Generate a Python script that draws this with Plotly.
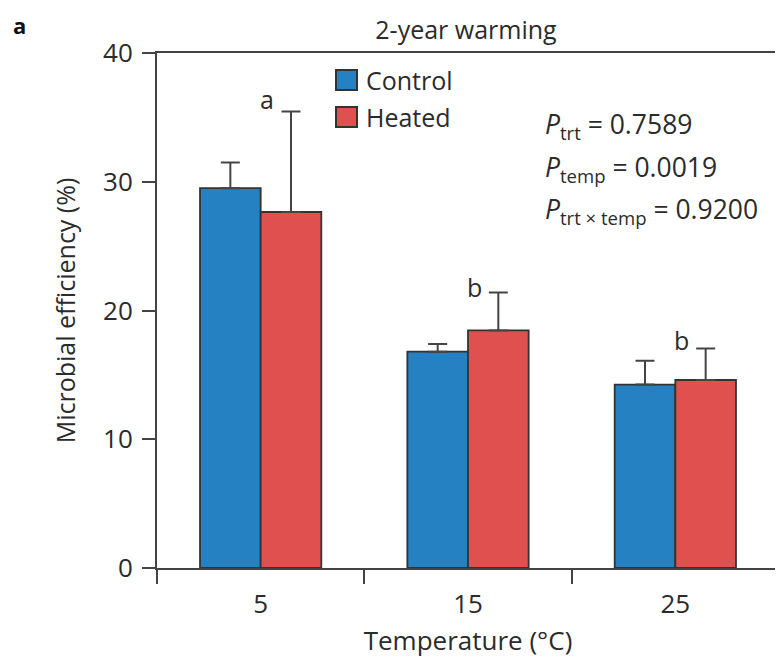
import plotly.graph_objects as go

# ---- data ----
categories = ["5", "15", "25"]
control = [29.5, 16.8, 14.25]
control_se = [2.0, 0.6, 1.85]
heated = [27.65, 18.45, 14.6]
heated_se = [7.8, 2.95, 2.45]
letters = ["a", "b", "b"]
letter_y = [36.4, 21.8, 17.7]
y_ticks = [0, 10, 20, 30, 40]
p_lines = [
    "<i>P</i><sub>trt</sub> = 0.7589",
    "<i>P</i><sub>temp</sub> = 0.0019",
    "<i>P</i><sub>trt × temp</sub> = 0.9200",
]

# ---- style ----
OFF = 8  # page body margin
W, H = 783 - OFF, 662 - OFF
PL, PR, PT, PB = 157, 779, 53, 568  # plot area in window pixels
L, R, T, B = PL - OFF, W - (PR - OFF), PT - OFF, H - (PB - OFF)
FONT = "Open Sans"
FS = 25
TXT = "#2b2b2b"
AX = "#444444"
BLUE = "#2681C2"
RED = "#E0504E"
EDGE = "#333333"


def px_x(wx):
    return (wx - PL) / (PR - PL)


def px_y(wy):
    return (PB - wy) / (PB - PT)


fig = go.Figure()
fig.add_bar(
    x=categories, y=control, name="Control",
    marker=dict(color=BLUE, line=dict(color=EDGE, width=1.8)),
    error_y=dict(type="data", symmetric=False, array=control_se,
                 arrayminus=[0] * len(control), color=AX, thickness=2, width=9.5),
    showlegend=False,
)
fig.add_bar(
    x=categories, y=heated, name="Heated",
    marker=dict(color=RED, line=dict(color=EDGE, width=1.8)),
    error_y=dict(type="data", symmetric=False, array=heated_se,
                 arrayminus=[0] * len(heated), color=AX, thickness=2, width=9.5),
    showlegend=False,
)

# significance letters (category index positions)
for i, (l, y) in enumerate(zip(letters, letter_y)):
    fig.add_annotation(x=i, xref="x", y=y, yref="y", text=l, showarrow=False,
                       xshift=6, font=dict(family=FONT, size=FS, color=TXT))

# manual legend
for name, col, cy in [("Control", BLUE, 80), ("Heated", RED, 117)]:
    fig.add_shape(type="rect", xref="paper", yref="paper",
                  x0=px_x(336), x1=px_x(357), y0=px_y(cy + 10), y1=px_y(cy - 10),
                  fillcolor=col, line=dict(color=EDGE, width=2))
    fig.add_annotation(xref="paper", yref="paper", x=px_x(364), y=px_y(cy),
                       xanchor="left", yanchor="middle", text=name, showarrow=False,
                       font=dict(family=FONT, size=FS, color=TXT))

# p-values
for i, t in enumerate(p_lines):
    fig.add_annotation(xref="paper", yref="paper", x=px_x(543), y=px_y(126 + 42 * i),
                       xanchor="left", yanchor="middle", text=t, showarrow=False,
                       font=dict(family=FONT, size=26.5, color=TXT))

# panel label
fig.add_annotation(xref="paper", yref="paper", x=px_x(11), y=px_y(OFF),
                   xanchor="left", yanchor="top", text="<b>a</b>", showarrow=False,
                   font=dict(family=FONT, size=22, color="#111111"))

fig.update_layout(
    width=W, height=H,
    margin=dict(l=L, r=R, t=T, b=B, autoexpand=False),
    paper_bgcolor="white", plot_bgcolor="white",
    barmode="group", bargap=0.415, bargroupgap=0,
    font=dict(family=FONT, size=FS, color=TXT),
    title=dict(text="2-year warming", x=(466 - OFF) / W, xref="container",
               xanchor="center", y=1 - (30 - OFF) / H, yref="container",
               yanchor="middle",
               font=dict(family=FONT, size=FS, color=TXT)),
)
fig.update_xaxes(
    type="category", range=[-0.5, 2.5], tickson="boundaries", ticks="outside",
    ticklen=14, tickwidth=2, tickcolor=AX, showline=True, linecolor=AX,
    linewidth=2, mirror=True, showgrid=False, zeroline=False, automargin=False,
    tickangle=0, ticklabelstandoff=12,
    title=dict(text="Temperature (°C)", standoff=12,
               font=dict(family=FONT, size=26, color=TXT)),
    tickfont=dict(family=FONT, size=26, color=TXT),
)
fig.update_yaxes(
    range=[0, 40], tickvals=y_ticks, ticks="outside", ticklen=13, tickwidth=2,
    tickcolor=AX, showline=True, linecolor=AX, linewidth=2, mirror=True,
    showgrid=False, zeroline=False, automargin=False, ticklabelstandoff=4,
    title=dict(text="Microbial efficiency (%)", standoff=20,
               font=dict(family=FONT, size=FS, color=TXT)),
    tickfont=dict(family=FONT, size=26, color=TXT),
)

fig.write_html("out.html")
